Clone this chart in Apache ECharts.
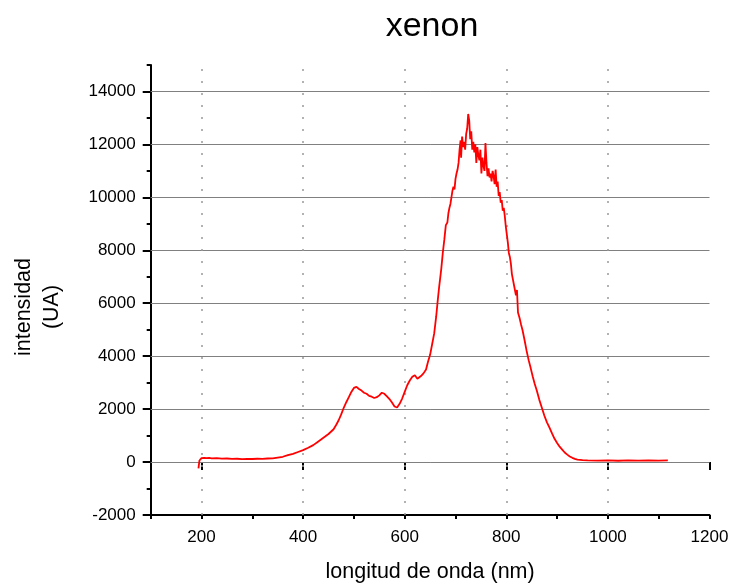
<!DOCTYPE html>
<html>
<head>
<meta charset="utf-8">
<script src="https://cdn.jsdelivr.net/npm/echarts@6/dist/echarts.min.js"></script>
<style>html,body{margin:0;padding:0;background:#fff}#c{width:730px;height:584px}</style>
</head>
<body>
<div id="c"></div>
<script>
const wavelength = [194,196,198,200,205,210,215,220,230,240,250,260,270,280,290,300,310,320,330,340,350,360,370,380,390,400,410,420,430,440,450,460,465,470,475,480,485,490,495,500,505,510,515,520,525,530,535,540,545,550,555,560,565,570,575,580,585,590,595,600,605,610,615,620,625,628,632,637,642,646,650,654,658,662,665,668,672,675,678,681,684,686,688,690,692,694,696,698,700,702,704,706,708,710,711,713,715,717,719,721,723,725,727,729,731,733,735,737,739,741,743,745,747,749,751,753,755,757,759,761,763,765,767,769,771,773,775,777,779,781,783,785,787,789,791,793,795,797,799,801,803,805,807,809,811,813,815,817,819,821,823,826,829,832,836,840,844,848,852,856,860,865,870,875,880,885,890,895,900,905,910,915,920,925,930,935,940,950,960,980,1000,1020,1040,1060,1080,1100,1118];
const intensity = [-240,60,130,150,160,145,155,140,150,130,135,120,125,110,120,115,125,120,135,140,170,200,260,310,380,450,540,640,780,920,1060,1240,1400,1580,1800,2050,2260,2450,2650,2800,2840,2760,2700,2620,2580,2500,2470,2420,2450,2520,2620,2580,2480,2380,2250,2100,2060,2200,2400,2650,2900,3080,3220,3280,3150,3120,3250,3350,3500,3800,4050,4450,4850,5500,6100,6650,7300,7900,8400,8950,9050,9400,9600,9750,10000,10250,10400,10300,10700,10900,11050,11300,11800,12150,11500,12300,11900,12100,11800,12400,12600,13150,12900,12200,12500,11800,12100,11700,12000,11300,11900,11600,11400,11800,10900,11500,11200,11000,12050,11300,10800,11100,10750,10900,10600,11000,10800,10500,11050,10400,10600,10050,10200,9800,9900,9500,9600,9300,8900,8600,8300,7900,7750,7500,7100,6900,6700,6500,6300,6500,5650,5450,5200,4980,4600,4200,3850,3550,3230,2950,2700,2350,2050,1750,1500,1300,1080,880,720,580,470,360,280,210,160,120,95,70,60,55,60,50,65,55,60,55,60];
const xLabels = [200,400,600,800,1000,1200];
const yLabels = [-2000,0,2000,4000,6000,8000,10000,12000,14000];
const hGrid = [0,2000,4000,6000,8000,10000,12000,14000];
const vGrid = [200,400,600,800,1000];

const font = 'Liberation Sans, Arial, sans-serif';
const chart = echarts.init(document.getElementById('c'));
const pts = wavelength.map((w,i)=>[w,intensity[i]]);
const fmt = v => String(v);
chart.setOption({
  animation:false,
  title:{text:'xenon',left:427,top:5,textAlign:'center',textStyle:{fontFamily:font,fontSize:34,fontWeight:'normal',color:'#000'}},
  grid:{left:150.7,right:20.5,top:65,bottom:69,containLabel:false,outerBoundsMode:'none'},
  xAxis:[{
    type:'value',min:100,max:1200,interval:100,
    name:'longitud de onda (nm)',nameLocation:'middle',nameGap:46,
    nameTextStyle:{fontFamily:font,fontSize:21.5,color:'#000'},
    axisLine:{show:true,onZero:false,lineStyle:{color:'#000',width:2}},
    axisTick:{show:true,length:4,lineStyle:{color:'#000',width:2}},
    axisLabel:{customValues:xLabels,formatter:fmt,margin:14,fontFamily:font,fontSize:17,color:'#000'},
    splitLine:{show:false}
  },{
    type:'value',min:100,max:1200,interval:100,position:'bottom',
    axisLine:{show:false},
    axisTick:{show:true,length:8,customValues:xLabels,lineStyle:{color:'#000',width:2}},
    axisLabel:{show:false},splitLine:{show:false}
  }],
  yAxis:[{
    type:'value',min:-2000,max:15000,interval:1000,
    name:'intensidad\n(UA)',nameLocation:'middle',nameGap:85,
    nameTextStyle:{fontFamily:font,fontSize:21.5,color:'#000',lineHeight:28,padding:[0,34,0,0]},
    axisLine:{show:true,onZero:false,lineStyle:{color:'#000',width:2}},
    axisTick:{show:true,length:4,lineStyle:{color:'#000',width:2}},
    axisLabel:{customValues:yLabels,formatter:fmt,margin:15,fontFamily:font,fontSize:17,color:'#000'},
    splitLine:{show:false}
  },{
    type:'value',min:-2000,max:15000,interval:1000,position:'left',
    axisLine:{show:false},
    axisTick:{show:true,length:8,customValues:yLabels,lineStyle:{color:'#000',width:2}},
    axisLabel:{show:false},splitLine:{show:false}
  }],
  series:[{
    type:'line',data:[],silent:true,
    markLine:{silent:true,symbol:'none',label:{show:false},animation:false,
      data:hGrid.map(v=>({yAxis:v,lineStyle:{color:'#808080',width:1,type:'solid'}}))
        .concat(vGrid.map(v=>({xAxis:v,lineStyle:{color:'#999',width:1.5,type:[2,10]}})))}
  },{
    type:'line',data:pts,showSymbol:false,symbol:'none',
    lineStyle:{color:'#ff0000',width:1.8},z:5
  }]
});
</script>
</body>
</html>
